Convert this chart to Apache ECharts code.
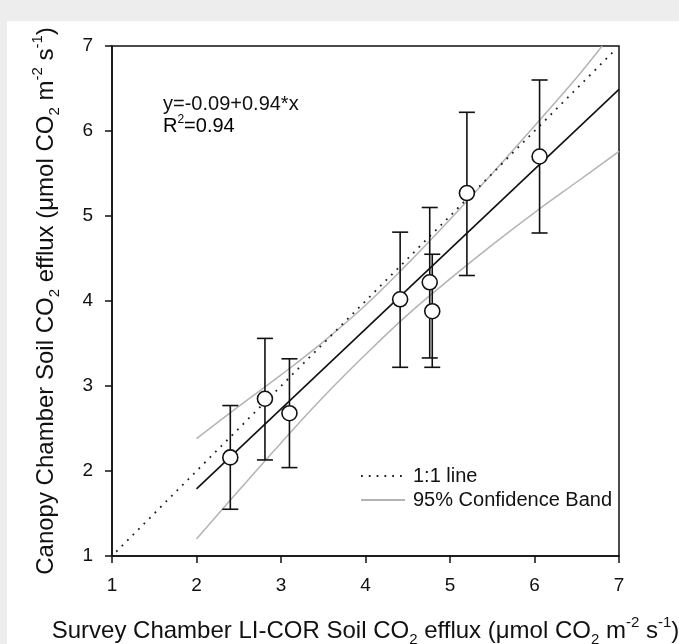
<!DOCTYPE html>
<html>
<head>
<meta charset="utf-8">
<script src="https://cdn.jsdelivr.net/npm/echarts@6/dist/echarts.min.js"></script>
<style>
  html, body { margin: 0; padding: 0; background: #fff; }
  #chart { width: 679px; height: 644px; }
</style>
</head>
<body>
<div id="chart"></div>
<script>
  // measured points (survey chamber vs canopy chamber)
  var obsX = [2.40, 2.81, 3.10, 4.41, 4.76, 4.79, 5.20, 6.06];
  var obsY = [2.16, 2.85, 2.68, 4.02, 4.22, 3.88, 5.27, 5.70];
  var errLow = [1.55, 2.13, 2.04, 3.22, 3.33, 3.22, 4.30, 4.80];
  var errHigh = [2.77, 3.56, 3.32, 4.81, 5.10, 4.55, 6.22, 6.60];

  // regression y=-0.09+0.94*x
  var fitX = [2, 7];
  var fitY = [1.79, 6.49];

  // 1:1 line
  var oneX = [1.05, 6.95];
  var oneY = [1.05, 6.95];

  // 95% confidence band
  var upperX = [2, 2.5, 3, 3.5, 4, 4.5, 5, 5.5, 6, 6.5, 6.8];
  var upperY = [2.38, 2.76, 3.13, 3.52, 3.95, 4.44, 4.96, 5.50, 6.06, 6.63, 7.0];
  var lowerX = [2, 2.5, 3, 3.5, 4, 4.5, 5, 5.5, 6, 6.5, 7];
  var lowerY = [1.20, 1.77, 2.33, 2.87, 3.37, 3.84, 4.26, 4.66, 5.04, 5.40, 5.76];

  var axisTicks = [1, 2, 3, 4, 5, 6, 7];

  function pairs(xs, ys) {
    var out = [];
    for (var i = 0; i < xs.length; i++) out.push([xs[i], ys[i]]);
    return out;
  }

  var errData = [];
  for (var i = 0; i < obsX.length; i++) {
    errData.push([obsX[i], errLow[i], errHigh[i]]);
  }

  var FONT = '"Liberation Sans", Arial, sans-serif';
  var titleRich = {
    n: { fontFamily: FONT, fontSize: 24, color: '#111', lineHeight: 32 },
    sub: { fontFamily: FONT, fontSize: 15, color: '#111', verticalAlign: 'bottom', lineHeight: 15 },
    sup: { fontFamily: FONT, fontSize: 15, color: '#111', verticalAlign: 'top', lineHeight: 15 }
  };

  var chart = echarts.init(document.getElementById('chart'));
  var option = {
    backgroundColor: '#fff',
    animation: false,
    textStyle: { fontFamily: FONT },
    graphic: [
      { type: 'rect', left: 0, top: 0, shape: { width: 679, height: 21 }, style: { fill: '#ededed' }, silent: true, z: -10 },
      { type: 'rect', left: 0, top: 0, shape: { width: 7, height: 644 }, style: { fill: '#ededed' }, silent: true, z: -10 },
      {
        type: 'text', left: 163, top: 94, silent: true,
        style: { text: 'y=-0.09+0.94*x', font: '20px ' + FONT, fill: '#111' }
      },
      {
        type: 'text', left: 163, top: 114, silent: true,
        style: {
          text: '{n|R}{sup|2}{n|=0.94}',
          rich: {
            n: { fontFamily: FONT, fontSize: 20, color: '#111', lineHeight: 24 },
            sup: { fontFamily: FONT, fontSize: 12, color: '#111', verticalAlign: 'top', lineHeight: 12 }
          }
        }
      }
    ],
    grid: {
      left: 112, top: 46, width: 507, height: 510,
      outerBoundsMode: 'none', containLabel: false,
      show: true, borderColor: '#111', borderWidth: 1.5, backgroundColor: '#fff'
    },
    legend: {
      data: ['1:1 line', '95% Confidence Band'],
      orient: 'vertical',
      left: 355, top: 461,
      itemWidth: 44, itemHeight: 12, itemGap: 4,
      selectedMode: false,
      itemStyle: { opacity: 0 },
      textStyle: { fontFamily: FONT, fontSize: 20, color: '#111', lineHeight: 20, padding: [0, 0, 0, 3] }
    },
    xAxis: {
      type: 'value', min: axisTicks[0], max: axisTicks[axisTicks.length - 1], interval: 1,
      name: 'Survey Chamber LI-COR Soil CO{sub|2} efflux ({n|μ}{n|mol CO}{sub|2}{n| m}{sup|-2}{n| s}{sup|-1}{n|)}',
      nameLocation: 'middle', nameGap: 59,
      nameTextStyle: { fontFamily: FONT, fontSize: 24, color: '#111', lineHeight: 32, rich: titleRich },
      axisLine: { lineStyle: { color: '#111', width: 1.5 } },
      axisTick: { length: 7, lineStyle: { color: '#111', width: 1.5 } },
      axisLabel: { fontFamily: FONT, fontSize: 19, color: '#111', margin: 20 },
      splitLine: { show: false }
    },
    yAxis: {
      type: 'value', min: axisTicks[0], max: axisTicks[axisTicks.length - 1], interval: 1,
      name: 'Canopy Chamber Soil CO{sub|2} efflux ({n|μ}{n|mol CO}{sub|2}{n| m}{sup|-2}{n| s}{sup|-1}{n|)}',
      nameLocation: 'middle', nameGap: 50,
      nameTextStyle: { fontFamily: FONT, fontSize: 24, color: '#111', lineHeight: 32, rich: titleRich },
      axisLine: { lineStyle: { color: '#111', width: 1.5 } },
      axisTick: { length: 7, lineStyle: { color: '#111', width: 1.5 } },
      axisLabel: { fontFamily: FONT, fontSize: 19, color: '#111', margin: 19 },
      splitLine: { show: false }
    },
    series: [
      {
        name: '95% Confidence Band', type: 'line', smooth: 0.4, symbol: 'none', silent: true, z: 2,
        data: pairs(upperX, upperY),
        lineStyle: { color: '#b4b4b4', width: 1.5 }, itemStyle: { color: '#b4b4b4' }
      },
      {
        name: '95% Confidence Band', type: 'line', smooth: 0.4, symbol: 'none', silent: true, z: 2,
        data: pairs(lowerX, lowerY),
        lineStyle: { color: '#b4b4b4', width: 1.5 }, itemStyle: { color: '#b4b4b4' }
      },
      {
        name: '1:1 line', type: 'line', symbol: 'none', silent: true, z: 3,
        data: pairs(oneX, oneY),
        lineStyle: { color: '#222', width: 1.8, type: [1.8, 6] }, itemStyle: { color: '#222' }
      },
      {
        name: 'fit', type: 'line', symbol: 'none', silent: true, z: 4,
        data: pairs(fitX, fitY),
        lineStyle: { color: '#111', width: 1.6 }
      },
      {
        name: 'error', type: 'custom', silent: true, z: 5,
        data: errData,
        encode: { x: 0, y: [1, 2] },
        renderItem: function (params, api) {
          var x = api.value(0);
          var lo = api.coord([x, api.value(1)]);
          var hi = api.coord([x, api.value(2)]);
          var hw = 8;
          var st = { stroke: '#111', lineWidth: 1.6 };
          return {
            type: 'group',
            children: [
              { type: 'line', shape: { x1: lo[0], y1: lo[1], x2: hi[0], y2: hi[1] }, style: st },
              { type: 'line', shape: { x1: lo[0] - hw, y1: lo[1], x2: lo[0] + hw, y2: lo[1] }, style: st },
              { type: 'line', shape: { x1: hi[0] - hw, y1: hi[1], x2: hi[0] + hw, y2: hi[1] }, style: st }
            ]
          };
        }
      },
      {
        name: 'obs', type: 'scatter', silent: true, z: 6,
        data: pairs(obsX, obsY),
        symbol: 'circle', symbolSize: 15,
        itemStyle: { color: '#fff', borderColor: '#111', borderWidth: 1.6, opacity: 1 }
      }
    ]
  };
  chart.setOption(option);
</script>
</body>
</html>
